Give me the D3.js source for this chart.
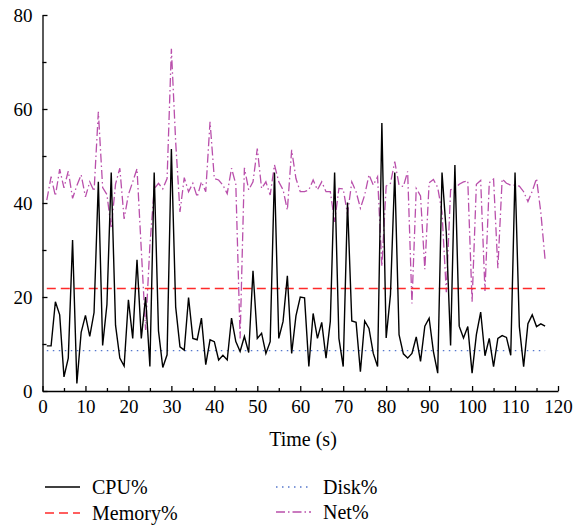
<!DOCTYPE html>
<html lang="en">
<head>
    <meta charset="UTF-8">
    <title>CPU / Memory / Disk / Net usage</title>
    <script src="https://d3js.org/d3.v7.min.js"></script>
    <style>
        body {
            margin: 0;
            background: #fff;
            font-family: "Liberation Serif", "DejaVu Serif", serif;
        }
        svg {
            display: block;
        }
        .axis text {
            font-family: "Liberation Serif", serif;
            font-size: 19px;
            fill: #000;
        }
        .axis line,
        .axis path {
            stroke: #000;
            stroke-width: 1.3px;
            fill: none;
        }
        .legend text {
            font-size: 20px;
        }
    </style>
</head>
<body>
    <svg id="chart" width="576" height="527"></svg>
    <script>
        // time in seconds, one sample per second
        var time = d3.range(1, 118);

        var cpu = [9.6, 9.6, 19, 16.2, 3.0, 7.0, 32.1, 1.6, 12.5, 16.1,
            11.6, 16.7, 44.5, 9.7, 18.4, 46.5, 14, 7.0, 5.3, 19.4,
            11.2, 27.9, 11.2, 20, 5.2, 46.5, 12.8, 5.0, 7.7, 51.5,
            17.9, 9.4, 8.7, 19.9, 11.2, 10.9, 15.5, 5.6, 10.9, 10.5,
            6.6, 7.6, 6.6, 15.5, 10.5, 8.4, 11.6, 8.2, 25.6, 11.2,
            12.3, 8.0, 10.5, 46.5, 11.2, 14.8, 24.5, 8.0, 16, 20,
            19.8, 5.2, 16.5, 11.2, 14.6, 7.0, 14.8, 46.5, 11.2, 5.2,
            40.1, 14.9, 14.6, 4.1, 14.9, 13.3, 8.0, 5.2, 57, 11.3,
            20.5, 46.5, 12, 7.9, 7.0, 8.0, 11.5, 6.3, 13.8, 15.5,
            8.4, 3.8, 46.5, 33.7, 9.7, 48.1, 13.8, 11.3, 13.7, 3.8,
            12, 16.8, 7.5, 11.2, 5.2, 11.2, 11.8, 11.4, 7.6, 46.5,
            13.7, 5.2, 14.3, 16.2, 13.7, 14.3, 13.8];

        var net = [40.6, 45.6, 41.5, 47.2, 43.2, 46.8, 41, 43.7, 46, 41.3,
            44.5, 42.5, 59.4, 43.3, 41.8, 34.6, 44, 47.4, 36.6, 41.8,
            44.5, 47.3, 30, 13, 31, 43, 44.2, 43, 45.2, 72.8,
            53, 38.1, 45.4, 42.4, 44.2, 41.3, 44.5, 42.4, 57.3, 45.2,
            44.9, 43.8, 42, 47.4, 44, 11.2, 47.5, 42.8, 44.5, 51.6,
            43.1, 44.5, 41.7, 48.1, 44.5, 42.8, 38.5, 51.3, 45.2, 42.4,
            42.4, 42.8, 44.9, 42.8, 44.5, 42.4, 42.4, 36, 43.1, 43,
            37.6, 44.5, 42.4, 38.9, 41.7, 46, 43.8, 45.6, 26.5, 43.6,
            44.2, 48.8, 43.8, 43.5, 46.7, 18.6, 43.1, 41.5, 25.9, 44.3,
            45, 43.3, 38, 21, 42.8, 43.1, 44, 44.5, 44.7, 19,
            44, 44.8, 21.3, 44.3, 45.1, 26.1, 45.1, 44.2, 43.8, 43.8,
            43.6, 42.4, 40.3, 42.5, 45.2, 38, 27.9];

        // memory and disk stay flat over the whole run
        var memoryLevel = 21.8;
        var diskLevel = 8.6;

        var xTicks = d3.range(0, 121, 10);
        var xMinorTicks = d3.range(5, 120, 10);
        var yTicks = [0, 20, 40, 60, 80];
        var yMinorTicks = [10, 30, 50, 70];

        var series = [
            {name: "CPU%", values: cpu, color: "#000000", width: 1.4, dash: null},
            {name: "Memory%", values: time.map(function() { return memoryLevel; }), color: "#ff2a2a", width: 1.4, dash: "9,5"},
            {name: "Disk%", values: time.map(function() { return diskLevel; }), color: "#5577cc", width: 1.4, dash: "1.5,4.5"},
            {name: "Net%", values: net, color: "#b94fab", width: 1.3, dash: "9,3,1.5,3"}
        ];

        var svg = d3.select("#chart");

        var x = d3.scaleLinear().domain([0, 120]).range([42.5, 558]),
            y = d3.scaleLinear().domain([0, 80]).range([391, 15]);

        // x axis with inward ticks
        svg.append("g")
            .attr("class", "x axis")
            .attr("transform", "translate(0,391)")
            .call(d3.axisBottom(x).tickValues(xTicks).tickSizeInner(-5).tickSizeOuter(0).tickPadding(9));

        svg.append("g")
            .attr("class", "x axis minor")
            .attr("transform", "translate(0,391)")
            .call(d3.axisBottom(x).tickValues(xMinorTicks).tickSizeInner(-3).tickSizeOuter(0).tickFormat(""))
            .select(".domain").remove();

        // y axis
        svg.append("g")
            .attr("class", "y axis")
            .attr("transform", "translate(42.5,0)")
            .call(d3.axisLeft(y).tickValues(yTicks).tickSizeInner(-5).tickSizeOuter(0).tickPadding(10));

        svg.append("g")
            .attr("class", "y axis minor")
            .attr("transform", "translate(42.5,0)")
            .call(d3.axisLeft(y).tickValues(yMinorTicks).tickSizeInner(-4).tickSizeOuter(0).tickFormat(""))
            .select(".domain").remove();

        svg.append("text")
            .attr("x", 303)
            .attr("y", 446)
            .style("text-anchor", "middle")
            .style("font-size", "20px")
            .text("Time (s)");

        var line = d3.line()
            .x(function(d, i) { return x(time[i]); })
            .y(function(d) { return y(d); });

        // draw net first so cpu stays on top
        [series[3], series[1], series[2], series[0]].forEach(function(s) {
            svg.append("path")
                .datum(s.values)
                .attr("fill", "none")
                .attr("stroke", s.color)
                .attr("stroke-width", s.width)
                .attr("stroke-dasharray", s.dash)
                .attr("d", line);
        });

        // legend, two columns
        var legendPos = [
            {lx: 45, ly: 487},
            {lx: 45, ly: 513},
            {lx: 276, ly: 487},
            {lx: 276, ly: 512}
        ];

        var legend = svg.append("g").attr("class", "legend");
        series.forEach(function(s, i) {
            var p = legendPos[i];
            legend.append("line")
                .attr("x1", p.lx).attr("x2", p.lx + 35)
                .attr("y1", p.ly).attr("y2", p.ly)
                .attr("stroke", s.color)
                .attr("stroke-width", s.width)
                .attr("stroke-dasharray", s.dash);
            legend.append("text")
                .attr("x", p.lx + 47)
                .attr("y", p.ly + 7)
                .text(s.name);
        });
    </script>
</body>
</html>
